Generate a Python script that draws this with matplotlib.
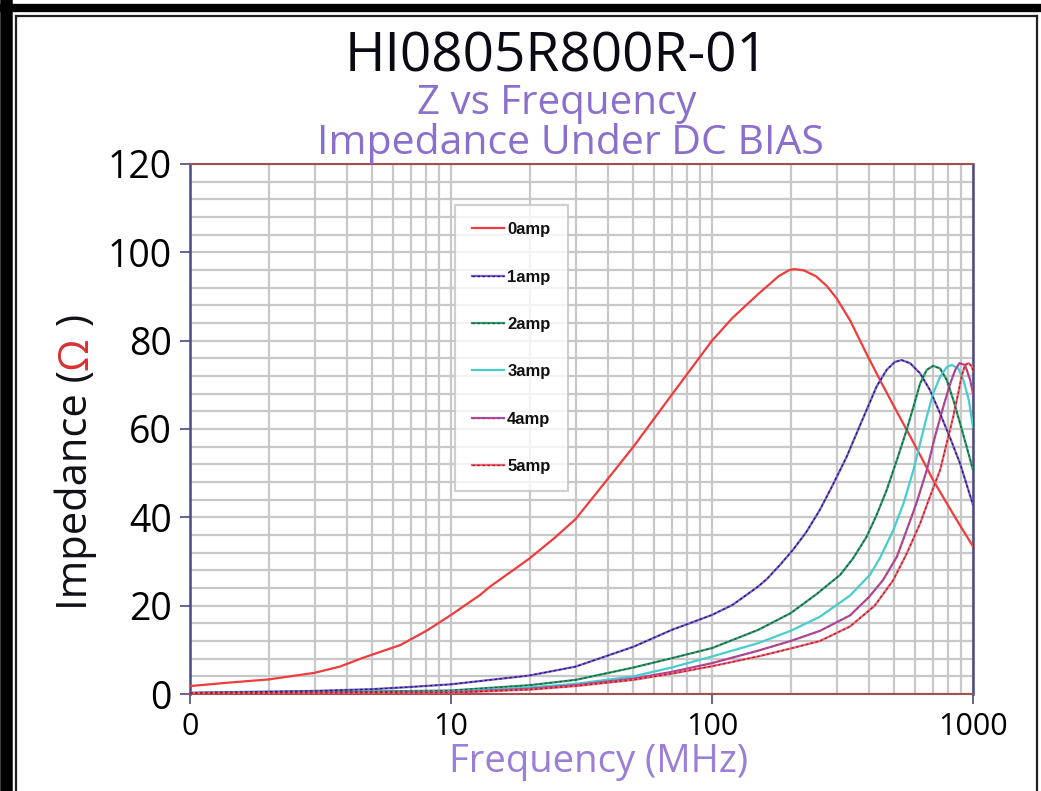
import numpy as np
import matplotlib.pyplot as plt
from matplotlib.lines import Line2D
from matplotlib.ticker import FixedLocator, NullFormatter, MultipleLocator

plt.rcParams['font.family'] = ['Open Sans', 'DejaVu Sans']

# data (frequency in MHz, impedance in ohm)
f0 = [1, 1.42, 2, 3, 3.75, 4.55, 6.4, 8.1, 10, 12.9, 14.1, 20, 25, 30, 38.3, 50, 70, 100, 120, 150,
      180, 198, 207, 225, 250, 275, 300, 338, 391, 440, 495, 557, 627, 704, 793, 889, 1000]
z0 = [1.8, 2.6, 3.3, 4.8, 6.2, 8.1, 11.1, 14.4, 17.9, 22.4, 24.3, 30.7, 35.4, 39.6, 47.4, 56, 67.7, 80, 85.2, 90.5,
      94.6, 96, 96.2, 95.9, 94.6, 92.4, 89.6, 84.6, 77, 71.1, 65.4, 59.8, 54.1, 48.4, 43.2, 38.3, 33.4]

f1 = [1, 3, 5, 7, 10, 20, 30, 50, 70, 100, 120, 150, 162, 182, 204, 230, 259, 290, 328, 358, 391,
      427, 467, 502, 533, 574, 627, 684, 748, 818, 892, 1000]
z1 = [0.3, 0.7, 1.1, 1.6, 2.2, 4.2, 6.2, 10.7, 14.5, 17.9, 20.2, 24.3, 26.0, 29.2, 32.6, 36.7, 41.7, 47.3, 53.7, 59, 64.3,
      69.6, 73.4, 75.2, 75.6, 74.9, 72.6, 68.8, 63.5, 57.9, 52.2, 42.8]

f2 = [1, 3, 10, 20, 30, 50, 70, 100, 150, 200, 250, 310, 348, 391, 427, 467, 511, 557, 591, 627,
      665, 704, 748, 793, 840, 892, 945, 1000]
z2 = [0.2, 0.4, 0.8, 2.0, 3.2, 6.0, 8.1, 10.4, 14.5, 18.3, 22.5, 27.0, 30.8, 35.6, 40.5, 46.2, 53, 59.8, 65, 70.3,
      73.4, 74.3, 73.7, 71.1, 66.6, 61.3, 56, 50.7]

f3 = [1, 3, 10, 20, 30, 50, 70, 100, 150, 200, 259, 338, 403, 440, 495, 542, 591, 627, 665, 704,
      748, 793, 829, 878, 918, 963, 1000]
z3 = [0.2, 0.3, 0.6, 1.5, 2.3, 4.0, 6.0, 8.5, 11.5, 14.3, 17.5, 22.3, 27.0, 30.8, 37.1, 43.2, 50.7, 56.8, 62.8, 68.1,
      71.8, 74, 74.5, 73.7, 71.1, 66.6, 60.5]

f4 = [1, 3, 10, 20, 30, 50, 70, 100, 150, 200, 259, 338, 400, 452, 511, 557, 607, 665, 715, 769,
      818, 855, 887, 932, 975, 1000]
z4 = [0.2, 0.3, 0.4, 1.2, 2.0, 3.5, 5.0, 7.0, 9.8, 12.0, 14.3, 17.8, 22, 25.8, 31.1, 37.1, 43.2, 50.7, 58.3, 65,
      70.3, 73.4, 74.9, 74.5, 71.1, 68]

f5 = [1, 3, 10, 20, 30, 50, 70, 100, 150, 200, 259, 338, 420, 495, 557, 627, 684, 748, 793, 840,
      878, 903, 932, 963, 991, 1000]
z5 = [0.2, 0.25, 0.3, 1.0, 1.8, 3.2, 4.6, 6.3, 8.5, 10.3, 12.0, 15.3, 20, 25.8, 31.8, 38.6, 44.7, 50.7, 56.8, 62.8,
      68.1, 71.8, 74.5, 74.9, 74.1, 73.2]

labels = ['0amp', '1amp', '2amp', '3amp', '4amp', '5amp']
base_colors = ['#f03c3c', '#7a5ad0', '#2f9a70', '#48cccc', '#9a50b8', '#f06070']
dash_colors = [None, '#1c1c5c', '#1d5a3c', None, '#e03040', '#a02030']

fig = plt.figure(figsize=(10.41, 7.91), dpi=100)
ax = fig.add_axes([0.1825, 0.1226, 0.7522, 0.6701])

handles = []
for fx, zx, c, dc in zip([f0, f1, f2, f3, f4, f5], [z0, z1, z2, z3, z4, z5], base_colors, dash_colors):
    h1, = ax.plot(fx, zx, color=c, lw=1.6, zorder=3)
    if dc is not None:
        h2, = ax.plot(fx, zx, color=dc, lw=0.9, ls=(0, (2, 2)), zorder=4)
        handles.append((h1, h2))
    else:
        handles.append(h1)

ax.set_xscale('log')
ax.set_xlim(1, 1000)
ax.set_ylim(0, 120)

# ticks and grid
ax.xaxis.set_major_locator(FixedLocator([1, 10, 100, 1000]))
ax.set_xticklabels(['0', '10', '100', '1000'])
minor_x = [m * 10 ** d for d in range(3) for m in range(2, 10)]
ax.xaxis.set_minor_locator(FixedLocator(minor_x))
ax.xaxis.set_minor_formatter(NullFormatter())
ax.yaxis.set_major_locator(MultipleLocator(20))
ax.yaxis.set_minor_locator(MultipleLocator(4))
ax.grid(which='both', color='#c8c8c8', lw=1.6, zorder=0)
ax.set_axisbelow(True)
ax.tick_params(axis='both', which='minor', length=0)
ax.tick_params(axis='y', which='major', direction='out', length=7, width=1.2,
               color='#4a4a80', labelsize=27, pad=6)
ax.tick_params(axis='x', which='major', direction='out', length=7, width=1.2,
               color='#4a4a80', labelsize=22, pad=6)

for s in ['left', 'right']:
    ax.spines[s].set_color('#4a4a82')
    ax.spines[s].set_linewidth(1.8)
for s in ['top', 'bottom']:
    ax.spines[s].set_color('#a05050')
    ax.spines[s].set_linewidth(1.5)

leg = ax.legend(handles, labels, loc='upper left', bbox_to_anchor=(0.338, 0.38, 0.1443, 0.543),
                mode='expand', frameon=True, fancybox=False, edgecolor='#c4c4c4',
                prop={'family': 'Liberation Sans', 'weight': 'bold', 'size': 12},
                handlelength=1.9, handletextpad=0.2, labelspacing=1.94,
                borderpad=1.05, borderaxespad=0)
leg.get_frame().set_linewidth(1.5)
for t in leg.get_texts():
    t.set_color('#101010')

# titles
fig.text(0.535, 0.928, 'HI0805R800R-01', ha='center', va='center', fontsize=39.5, color='#0a0a14')
fig.text(0.535, 0.869, 'Z vs Frequency', ha='center', va='center', fontsize=29, color='#8a6fcc')
fig.text(0.548, 0.819, 'Impedance Under DC BIAS', ha='center', va='center', fontsize=29.5, color='#8a6fcc')
fig.text(0.575, 0.037, 'Frequency (MHz)', ha='center', va='center', fontsize=27.5, color='#9a7ed8')

# y label with red omega, built piece by piece
fig.canvas.draw()
r = fig.canvas.get_renderer()
ypos = 0.229
for txt, col in [('Impedance (', '#101018'), ('Ω', '#d83030'), (' )', '#101018')]:
    t = fig.text(0.073, ypos, txt, rotation=90, rotation_mode='anchor',
                 ha='left', va='center', fontsize=30, color=col)
    bb = t.get_window_extent(r)
    ypos = bb.y1 / fig.bbox.height

# outer frame
fig.add_artist(Line2D([0, 1], [1 - 8 / 791, 1 - 8 / 791], color='black', lw=6, transform=fig.transFigure))
fig.add_artist(Line2D([6 / 1041, 6 / 1041], [0, 1 - 4 / 791], color='black', lw=9, transform=fig.transFigure))
fig.add_artist(Line2D([16 / 1041, 1037 / 1041], [1 - 16 / 791, 1 - 16 / 791], color='#202020', lw=1.6, transform=fig.transFigure))
fig.add_artist(Line2D([16 / 1041, 16 / 1041], [0, 1 - 16 / 791], color='#202020', lw=1.6, transform=fig.transFigure))
fig.add_artist(Line2D([1037 / 1041, 1037 / 1041], [0, 1 - 16 / 791], color='#202020', lw=1.6, transform=fig.transFigure))

fig.savefig('out.png', dpi=100)
